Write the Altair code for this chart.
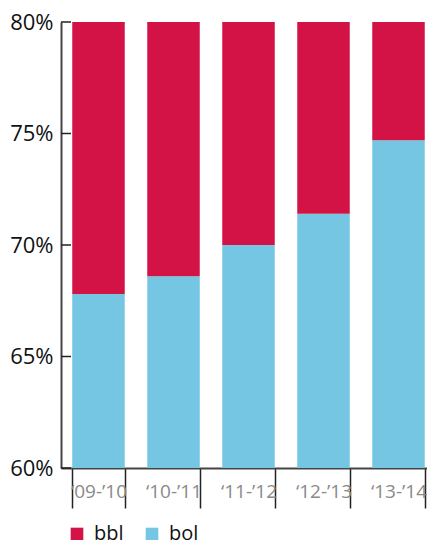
import altair as alt
import pandas as pd

periods = ["\u201809-\u201910", "\u201810-\u201911", "\u201811-\u201912", "\u201812-\u201913", "\u201813-\u201914"]
bol = [0.678, 0.686, 0.700, 0.714, 0.747]
bbl = [0.322, 0.314, 0.300, 0.286, 0.253]
series = ["bbl", "bol"]
colors = ["#D31345", "#74C6E2"]
y_ticks = [0.60, 0.65, 0.70, 0.75, 0.80]

rows = []
for p, b, r in zip(periods, bol, bbl):
    rows.append({"period": p, "series": "bol", "value": b, "ord": 0})
    rows.append({"period": p, "series": "bbl", "value": r, "ord": 1})
df = pd.DataFrame(rows)

FONT = "Open Sans"

bars = alt.Chart(df).mark_bar(clip=True).encode(
    x=alt.X("period:N", sort=periods, title=None,
            scale=alt.Scale(paddingInner=0.3, paddingOuter=0.15, range=[0, 375]),
            axis=alt.Axis(labelAngle=0, tickBand="extent", tickSize=40, tickWidth=1.5,
                          tickColor="#222", domainColor="#444", domainWidth=2,
                          labelPadding=-26, labelFont=FONT, labelFontSize=19,
                          labelColor="#8a8a8a")),
    y=alt.Y("value:Q", stack="zero", title=None,
            scale=alt.Scale(domain=[0.6, 0.8], nice=False, zero=False),
            axis=alt.Axis(values=y_ticks, format=".0%", ticks=False, labelPadding=8,
                          domainColor="#444", domainWidth=2, labelFont=FONT,
                          labelFontSize=22, labelColor="#111", grid=False)),
    color=alt.Color("series:N", title=None,
                    scale=alt.Scale(domain=series, range=colors),
                    legend=alt.Legend(orient="none", legendX=6, legendY=502,
                                      direction="horizontal", symbolType="square",
                                      symbolSize=160, symbolStrokeWidth=0,
                                      labelFont=FONT, labelFontSize=20, labelColor="#111",
                                      labelOffset=7, columnPadding=18, padding=0)),
    order=alt.Order("ord:Q"),
)

tick_df = pd.DataFrame({"v": y_ticks})
yticks = alt.Chart(tick_df).mark_rule(color="#222", strokeWidth=1.5).encode(
    y=alt.Y("v:Q"),
    x=alt.value(0),
    x2=alt.value(10),
)

chart = alt.layer(bars, yticks).properties(
    width=366, height=446,
    autosize=alt.AutoSizeParams(type="none"),
    padding={"left": 53, "top": 14, "right": 0, "bottom": 74},
).configure_view(stroke=None)

chart.save("out.html", embed_options={"renderer": "svg", "actions": False})
